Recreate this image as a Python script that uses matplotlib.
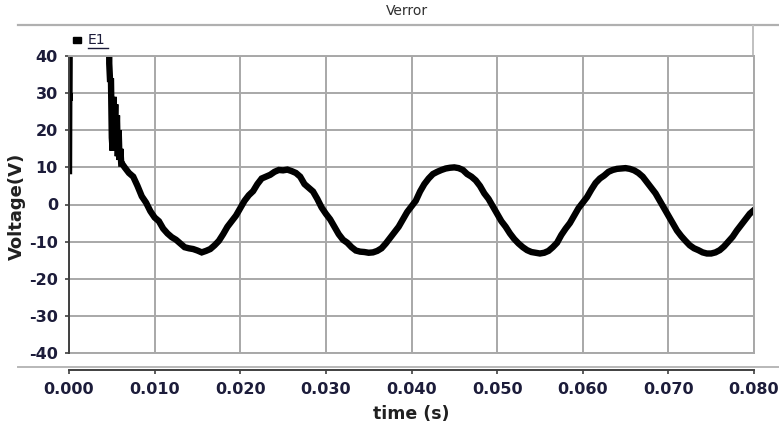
import numpy as np
import matplotlib.pyplot as plt
from matplotlib.lines import Line2D
from matplotlib.patches import Rectangle

plt.rcParams['axes.unicode_minus'] = False

# Verror, channel E1: start-up transient (clipped above 40 V), then the 50 Hz error
t_start = [0.0, 0.00003, 0.00005, 0.00008, 0.0047, 0.0047, 0.0048, 0.0049,
           0.0050, 0.0051, 0.0052, 0.0053, 0.0054, 0.0055, 0.0056, 0.0057,
           0.0058, 0.0059, 0.0060, 0.0061, 0.0062, 0.0065]
v_start = [9, 30, 28, 45, 45, 38, 33, 34,
           18, 14.5, 29, 20, 27, 16, 24, 13,
           20, 12, 15, 11, 11, 10]

# steady part, one sample every 0.5 ms from 7 ms to 80 ms
v_main = [8.5, 7.5, 5, 2.2, 0.5, -1.8, -3.5, -4.5, -6.5, -7.8,
          -8.8, -9.5, -10.5, -11.5, -11.8, -12.0, -12.4, -12.9, -12.5, -12.0,
          -11, -9.8, -8, -6.0, -4.5, -3.0, -1, 1.0, 2.5, 3.6,
          5.5, 7.0, 7.5, 8.0, 8.8, 9.3, 9.2, 9.4, 9, 8.5,
          7.5, 5.5, 4.5, 3.5, 1.5, -0.8, -2.5, -4.0, -6, -8.0,
          -9.5, -10.3, -11.5, -12.4, -12.7, -12.8, -13, -12.9, -12.5, -11.8,
          -10.5, -9.0, -7.5, -6.0, -4, -2.0, -0.5, 1.0, 3.5, 5.5,
          7, 8.2, 8.8, 9.3, 9.7, 9.9, 10, 9.8, 9.3, 8.2,
          7.5, 6.5, 5, 3.0, 1.5, -0.5, -2.5, -4.5, -6, -7.8,
          -9.3, -10.5, -11.5, -12.3, -12.8, -13.0, -13.2, -13.0, -12.5, -11.5,
          -10.3, -8.2, -6.5, -5.0, -3, -1.0, 0.5, 2.0, 4, 5.8,
          7, 7.8, 8.8, 9.3, 9.6, 9.7, 9.8, 9.6, 9.2, 8.5,
          7.5, 6.0, 4.5, 3.0, 1, -1.0, -3, -5.0, -7, -8.5,
          -9.8, -11.0, -11.8, -12.3, -12.9, -13.2, -13.2, -12.9, -12.3, -11.3,
          -10, -8.7, -7, -5.5, -4, -2.5, -1.5]
t_main = np.round(0.007 + 0.0005 * np.arange(len(v_main)), 5)

xticks = [0.0, 0.01, 0.02, 0.03, 0.04, 0.05, 0.06, 0.07, 0.08]
yticks = [-40, -30, -20, -10, 0, 10, 20, 30, 40]

t = np.concatenate([t_start, t_main])
v = np.concatenate([v_start, v_main])

W, H = 779, 429
fig = plt.figure(figsize=(W / 100, H / 100), dpi=100)
ax = fig.add_axes([69 / W, 1 - 353 / H, (754 - 69) / W, (353 - 56) / H])

grid_c = '#a8a8a8'
text_c = '#1c1c3a'

ax.plot(t, v, color='black', lw=4.6, solid_joinstyle='miter')
ax.set_xlim(0, 0.08)
ax.set_ylim(-40, 40)
ax.set_xticks(xticks)
ax.set_yticks(yticks)
ax.set_xticklabels(['%.3f' % x for x in xticks])
ax.grid(True, color=grid_c, lw=1.4)
ax.set_axisbelow(True)

for s in ['top', 'right']:
    ax.spines[s].set_color(grid_c)
    ax.spines[s].set_linewidth(1.4)
ax.spines['left'].set_color('#404040')
ax.spines['left'].set_linewidth(1.4)
ax.spines['bottom'].set_position(('outward', 12.2))
ax.spines['bottom'].set_color('#404040')
ax.spines['bottom'].set_linewidth(1.4)
ax.axhline(-40, color=grid_c, lw=1.4, clip_on=False, zorder=0.5)

ax.tick_params(axis='both', colors='#404040', labelcolor=text_c, labelsize=11.5,
               length=3, width=1.2)
ax.tick_params(axis='y', pad=5)
ax.tick_params(axis='x', pad=6)
for lab in ax.get_xticklabels() + ax.get_yticklabels():
    lab.set_fontweight('bold')

ax.set_xlabel('time (s)', fontsize=12.5, fontweight='bold', color='#202020')
ax.xaxis.set_label_coords(0.5, -(414 - 353) / (353 - 56))
ax.xaxis.label.set_va('center')
ax.set_ylabel('Voltage(V)', fontsize=13, fontweight='bold', color='#202020')
ax.yaxis.set_label_coords(-(69 - 17) / (754 - 69), (353 - 206) / (353 - 56))
ax.yaxis.label.set_va('center')

# title strip and separators
fig.text(407 / W, 1 - 11 / H, 'Verror', ha='center', va='center', fontsize=10, color='#303030')
fig.add_artist(Line2D([18 / W, 1], [1 - 25 / H] * 2, color='#b0b0b0', lw=1.6))
fig.add_artist(Line2D([753 / W] * 2, [1 - 26 / H, 1 - 54 / H], color='#c0c0c0', lw=1.4))
fig.add_artist(Line2D([18 / W, 1], [1 - 367 / H] * 2, color='#b8b8b8', lw=1.4))

# legend entry
fig.add_artist(Rectangle((73 / W, 1 - 43 / H), 8 / W, 6 / H, color='black',
                         transform=fig.transFigure))
fig.text(88 / W, 1 - 40 / H, 'E1', ha='left', va='center', fontsize=10, color=text_c)
fig.add_artist(Line2D([88 / W, 108 / W], [1 - 48 / H] * 2, color=text_c, lw=1.0))

fig.savefig('out.png', dpi=100)
